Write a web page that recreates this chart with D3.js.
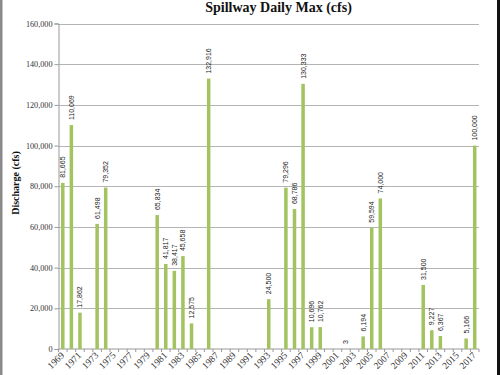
<!DOCTYPE html>
<html>
<head>
<meta charset="utf-8">
<title>Spillway Daily Max</title>
<script src="https://cdn.jsdelivr.net/npm/d3@7"></script>
<style>
  body { margin: 0; background: #fff; }
</style>
</head>
<body>
<svg id="mainsvg" width="500" height="375"></svg>
<script>
// categories: every year on the axis
const years = d3.range(1969, 2018);
// years that had spillway flow, and the daily max in cfs
const barYears  = [1969, 1970, 1971, 1973, 1974, 1980, 1981, 1982, 1983, 1984, 1986,
                   1993, 1995, 1996, 1997, 1998, 1999, 2002, 2004, 2005, 2006,
                   2011, 2012, 2013, 2016, 2017];
const barValues = [81665, 110069, 17862, 61498, 79352, 65834, 41817, 38417, 45658, 12575, 132916,
                   24500, 79296, 68786, 130333, 10696, 10762, 3, 6194, 59594, 74000,
                   31500, 9227, 6367, 5166, 100000];
const yTicks = [0, 20000, 40000, 60000, 80000, 100000, 120000, 140000, 160000];

const svg = d3.select('#mainsvg');
const plotLeft = 58.5, plotRight = 479, plotTop = 23.5, plotBottom = 349;

const x = d3.scaleBand().domain(years).range([plotLeft, plotRight]);
const y = d3.scaleLinear().domain([0, 160000]).range([plotBottom, plotTop]);
const fmt = d3.format(',');
const serif = '"Liberation Serif", "Times New Roman", serif';

// frame edges from the scan
svg.append('rect').attr('x', 0).attr('y', 0).attr('width', 2.5).attr('height', 375).attr('fill', '#8a8a8a');
svg.append('rect').attr('x', 497).attr('y', 0).attr('width', 3).attr('height', 375).attr('fill', '#111');

// gridlines
svg.append('g')
    .selectAll('line')
    .data(yTicks.slice(1))
    .join('line')
    .attr('x1', plotLeft).attr('x2', plotRight)
    .attr('y1', d => Math.round(y(d)) + 0.5).attr('y2', d => Math.round(y(d)) + 0.5)
    .attr('stroke', '#b4b4b4');

// y axis
const yAxis = svg.append('g')
    .attr('transform', `translate(${plotLeft},0)`)
    .call(d3.axisLeft(y).tickValues(yTicks).tickFormat(fmt).tickSize(4).tickPadding(2));
yAxis.select('.domain').attr('stroke', '#999');
yAxis.selectAll('.tick line').attr('stroke', '#999');
yAxis.selectAll('text').attr('font-family', serif).attr('font-size', 8.2).attr('fill', '#333');

// x axis: tick at each band boundary, label every other year
const xAxis = svg.append('g')
    .attr('transform', `translate(0,${plotBottom})`);
xAxis.append('line').attr('x1', plotLeft).attr('x2', plotRight).attr('stroke', '#999');
xAxis.selectAll('line.tk')
    .data(years.concat([2018]))
    .join('line')
    .attr('class', 'tk')
    .attr('x1', d => d === 2018 ? plotRight : x(d)).attr('x2', d => d === 2018 ? plotRight : x(d))
    .attr('y1', 0).attr('y2', 3)
    .attr('stroke', '#999');
xAxis.selectAll('text')
    .data(years.filter((d, i) => i % 2 === 0))
    .join('text')
    .attr('transform', d => `translate(${x(d) + x.bandwidth() / 2 + 2},${7}) rotate(-45)`)
    .attr('text-anchor', 'end')
    .attr('font-family', serif)
    .attr('font-size', 9.5)
    .attr('fill', '#333')
    .text(d => d);

// bars
const barW = 3.5;
svg.append('g')
    .selectAll('rect')
    .data(barYears)
    .join('rect')
    .attr('x', d => x(d) + x.bandwidth() / 2 - barW / 2)
    .attr('width', barW)
    .attr('y', (d, i) => y(barValues[i]))
    .attr('height', (d, i) => plotBottom - y(barValues[i]))
    .attr('fill', '#a2c35f');

// value labels
svg.append('g')
    .selectAll('text')
    .data(barYears)
    .join('text')
    .attr('transform', (d, i) => `translate(${x(d) + x.bandwidth() / 2},${y(barValues[i]) - 5}) rotate(-90)`)
    .attr('dy', '0.35em')
    .attr('font-family', '"Liberation Sans", Arial, sans-serif')
    .attr('font-size', 7)
    .attr('fill', '#222')
    .text((d, i) => fmt(barValues[i]));

// title
svg.append('text')
    .attr('x', 278.5).attr('y', 12)
    .attr('text-anchor', 'middle')
    .attr('font-family', serif)
    .attr('font-weight', 'bold')
    .attr('font-size', 14)
    .attr('fill', '#111')
    .text('Spillway Daily Max (cfs)');

// y axis title
svg.append('text')
    .attr('transform', 'translate(15,183) rotate(-90)')
    .attr('text-anchor', 'middle')
    .attr('dy', '0.35em')
    .attr('font-family', serif)
    .attr('font-weight', 'bold')
    .attr('font-size', 10)
    .attr('fill', '#111')
    .text('Discharge (cfs)');
</script>
</body>
</html>
